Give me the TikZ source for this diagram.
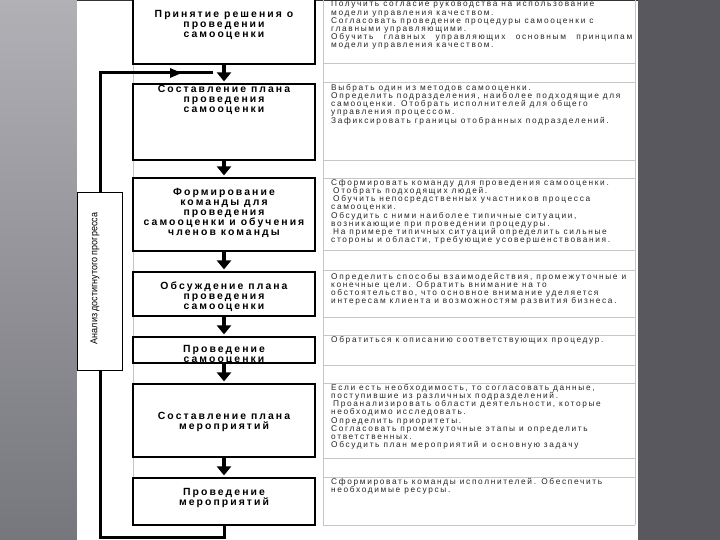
\documentclass[tikz,border=0pt]{standalone}
\usepackage{fontspec}
\usepackage{graphicx}
\setmainfont{Liberation Sans}
\newfontfamily\boxfont{Liberation Sans}[LetterSpace=20]
\newfontfamily\rfont{Liberation Sans}[LetterSpace=20]
\newfontfamily\anfont{Liberation Sans}
\usetikzlibrary{arrows.meta}
\definecolor{bgleftA}{RGB}{176,176,181}
\definecolor{bgleftB}{RGB}{118,118,125}
\definecolor{bgright}{RGB}{89,88,94}
\begin{document}
\begin{tikzpicture}[x=1pt,y=-1pt,
  box/.style={draw=black, line width=1.2pt, fill=white, minimum width=182pt, inner sep=0pt},
  btext/.style={font=\boxfont\bfseries\fontsize{10.4}{10}\selectfont, align=center, inner sep=0pt},
  rtext/.style={font=\rfont\fontsize{8.3}{8.2}\selectfont, align=left, anchor=north west, inner sep=0pt, text=black!85},
  darrow/.style={line width=4pt, -{Triangle[width=14pt,length=9pt]}, shorten >=2pt},
  tgrid/.style={gray!45, line width=0.7pt},
  fb/.style={line width=3pt, line join=miter},
  anbox/.style={draw=black, line width=0.8pt, fill=white, inner sep=0pt}]
\useasboundingbox (0,0) rectangle (720,540);
\clip (0,0) rectangle (720,540);
% background
\shade[top color=bgleftA, bottom color=bgleftB] (0,0) rectangle (77,540);
\fill[bgright] (638,0) rectangle (720,540);
\fill[white] (77,0) rectangle (638,540);
\draw[black!80, line width=1.5pt] (77,0.7) -- (638,0.7);
% table grid
\foreach \yy in {63,82,160,178,250,270,317,335,365,383,458,477,525}
  \draw[tgrid] (323,\yy) -- (635,\yy);
\draw[tgrid] (133,0) -- (133,525);
\draw[tgrid] (323,0) -- (323,525);
\draw[tgrid] (635,0) -- (635,525);
% boxes
\node[box, minimum height=69pt] (b1) at (224,29.5) {};
\node[box, minimum height=76pt] (b2) at (224,122) {};
\node[box, minimum height=73pt] (b3) at (224,214.5) {};
\node[box, minimum height=44pt] (b4) at (224,294) {};
\node[box, minimum height=26pt] (b5) at (224,350) {};
\node[box, minimum height=73pt] (b6) at (224,420.5) {};
\node[box, minimum height=47pt] (b7) at (224,501.5) {};
% box texts
\node[btext] (t1) at (224,25) {Принятие решения о\\проведении\\самооценки};
\node[btext] (t2) at (224,100) {Составление плана\\проведения\\самооценки};
\node[btext] (t3) at (224,212.5) {Формирование\\команды для\\проведения\\самооценки и обучения\\членов команды};
\node[btext] (t4) at (224,297) {Обсуждение плана\\проведения\\самооценки};
\node[btext] (t5) at (224,354.5) {Проведение\\самооценки};
\node[btext] (t6) at (224,422) {Составление плана\\мероприятий};
\node[btext] (t7) at (224,497.5) {Проведение\\мероприятий};
% arrows
\draw[darrow] (b1.south) -- (b2.north);
\draw[darrow] (b2.south) -- (b3.north);
\draw[darrow] (b3.south) -- (b4.north);
\draw[darrow] (b4.south) -- (b5.north);
\draw[darrow] (b5.south) -- (b6.north);
\draw[darrow] (b6.south) -- (b7.north);
% feedback loop
\coordinate (c1) at (100,537);
\coordinate (c2) at (100,73);
\coordinate (c3) at (213,73);
\coordinate (cm) at (182,73);
\draw[fb] (b7.south) -- (b7.south |- c1) -- (c1) -- (c2) -- (c3);
\draw[line width=3pt, -{Triangle[width=9pt,length=12pt]}] (c2) -- (cm);
% analysis box
\node[anbox, minimum width=45pt, minimum height=178pt] (an) at (99.5,281) {};
\node[rotate=90, inner sep=0pt, font=\anfont\fontsize{10}{11}\selectfont] (antext) at (95,278.5) {\scalebox{0.9}[1]{Анализ достигнутого прогресса}};
% right texts
\node[rtext] (r1) at (331,1) {Получить согласие руководства на использование\\
модели управления качеством.\\
Согласовать проведение процедуры самооценки с\\
главными управляющими.\\
\makebox[301pt][s]{Обучить главных управляющих основным принципам}\\
модели управления качеством.};
\node[rtext] (r2) at (331,84) {Выбрать один из методов самооценки.\\
Определить подразделения, наиболее подходящие для\\
самооценки. Отобрать исполнителей для общего\\
управления процессом.\\
Зафиксировать границы отобранных подразделений.};
\node[rtext] (r3) at (331,179) {Сформировать команду для проведения самооценки.\\
\hspace{2pt}Отобрать подходящих людей.\\
\hspace{2pt}Обучить непосредственных участников процесса\\
самооценки.\\
Обсудить с ними наиболее типичные ситуации,\\
возникающие при проведении процедуры.\\
\hspace{2pt}На примере типичных ситуаций определить сильные\\
стороны и области, требующие усовершенствования.};
\node[rtext] (r4) at (331,273) {Определить способы взаимодействия, промежуточные и\\
конечные цели. Обратить внимание на то\\
обстоятельство, что основное внимание уделяется\\
интересам клиента и возможностям развития бизнеса.};
\node[rtext] (r5) at (331,336) {Обратиться к описанию соответствующих процедур.};
\node[rtext] (r6) at (331,384) {Если есть необходимость, то согласовать данные,\\
поступившие из различных подразделений.\\
\hspace{2pt}Проанализировать области деятельности, которые\\
необходимо исследовать.\\
Определить приоритеты.\\
Согласовать промежуточные этапы и определить\\
ответственных.\\
Обсудить план мероприятий и основную задачу};
\node[rtext] (r7) at (331,478) {Сформировать команды исполнителей. Обеспечить\\
необходимые ресурсы.};
\end{tikzpicture}
\end{document}
